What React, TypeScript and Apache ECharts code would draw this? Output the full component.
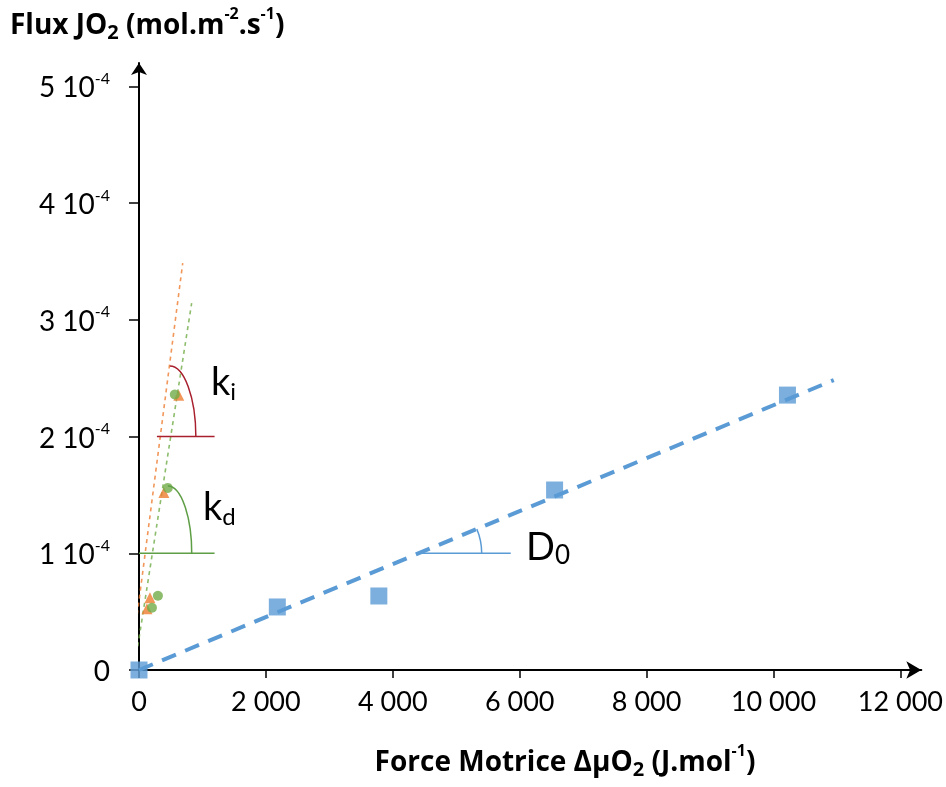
import React, { useEffect, useRef } from "react";
import * as echarts from "echarts";

// ---- data ----
const xTickValues = [0, 2000, 4000, 6000, 8000, 10000, 12000];
const xTickLabels = ["0", "2 000", "4 000", "6 000", "8 000", "10 000", "12 000"];
const yTickValues = [0, 1e-4, 2e-4, 3e-4, 4e-4, 5e-4];
const yTickMantissa = ["0", "1 10", "2 10", "3 10", "4 10", "5 10"];
const yTickExponent = ["", "-4", "-4", "-4", "-4", "-4"];

const blueX = [0, 2180, 3780, 6550, 10220];
const blueY = [0, 0.54e-4, 0.634e-4, 1.542e-4, 2.355e-4];
const trendX = [0, 10950];
const trendY = [0, 2.484e-4];

const triX = [125, 172, 392, 627];
const triY = [0.524e-4, 0.619e-4, 1.52e-4, 2.354e-4];
const circX = [204, 298, 454, 564];
const circY = [0.533e-4, 0.636e-4, 1.56e-4, 2.36e-4];

const orangeFitX = [-141, 689];
const orangeFitY = [0, 3.486e-4];
const greenFitX = [-78, 830];
const greenFitY = [0, 3.143e-4];

// annotation guides (data units)
const kiBaseX = [282, 1191];
const kiBaseY = [2e-4, 2e-4];
const kdBaseX = [0, 1191];
const kdBaseY = [1e-4, 1e-4];
const d0BaseX = [4434, 5859];
const d0BaseY = [1e-4, 1e-4];
const kiArcTop = [486, 2.604e-4];
const kiArcEnd = [896, 2e-4];
const kdArcTop = [455, 1.576e-4];
const kdArcEnd = [831, 1e-4];
const d0ArcEnd = [5401, 1e-4];

const zip = (xs: number[], ys: number[]) => xs.map((x, i) => [x, ys[i]]);

const FONT = "Lato, 'Open Sans', 'DejaVu Sans', sans-serif";
const TFONT = "'Open Sans', Lato, 'DejaVu Sans', sans-serif";
const BLUE = "#5b9bd5";
const ORANGE = "#ed7d31";
const GREEN = "#70ad47";
const RED = "#a8202e";
const KD_GREEN = "#5e9e45";

export default function App() {
  const ref = useRef<HTMLDivElement>(null);
  useEffect(() => {
    if (!ref.current) return;
    const chart = echarts.init(ref.current, null, { renderer: "svg" });
    const option: any = {
      animation: false,
      grid: { left: 139, top: 63, width: 787, height: 607 },
      xAxis: {
        type: "value",
        min: 0,
        max: 12330,
        axisLine: {
          show: true,
          onZero: false,
          symbol: ["none", "arrow"],
          symbolSize: [13, 15],
          lineStyle: { color: "#000", width: 2 },
        },
        axisTick: {
          show: true,
          inside: false,
          length: 8,
          customValues: xTickValues,
          lineStyle: { color: "#000", width: 1.5 },
        },
        axisLabel: {
          customValues: xTickValues,
          formatter: (v: number) => {
            const i = xTickValues.indexOf(v);
            return i >= 0 ? xTickLabels[i] : "";
          },
          fontFamily: FONT,
          fontSize: 27,
          color: "#000",
          margin: 17,
        },
        splitLine: { show: false },
      },
      yAxis: {
        type: "value",
        min: 0,
        max: 5.2e-4,
        axisLine: {
          show: true,
          onZero: false,
          symbol: ["none", "arrow"],
          symbolSize: [12, 12],
          lineStyle: { color: "#000", width: 2 },
        },
        axisTick: {
          show: true,
          inside: false,
          length: 10,
          customValues: yTickValues,
          lineStyle: { color: "#000", width: 1.5 },
        },
        axisLabel: {
          customValues: yTickValues,
          formatter: (v: number) => {
            const i = Math.round(v / 1e-4);
            if (!yTickExponent[i]) return `{m|${yTickMantissa[i]}}`;
            return `{m|${yTickMantissa[i]}}{e|${yTickExponent[i]}}`;
          },
          margin: 29,
          rich: {
            m: { fontFamily: FONT, fontSize: 28, lineHeight: 34, color: "#000" },
            e: { fontFamily: FONT, fontSize: 16, lineHeight: 28, verticalAlign: "top", color: "#000" },
          },
        },
        splitLine: { show: false },
      },
      series: [
        {
          type: "line",
          data: zip(orangeFitX, orangeFitY),
          symbol: "none",
          clip: false,
          silent: true,
          lineStyle: { color: ORANGE, width: 1.6, type: [4, 4], opacity: 0.8 },
          z: 1,
        },
        {
          type: "line",
          data: zip(greenFitX, greenFitY),
          symbol: "none",
          clip: false,
          silent: true,
          lineStyle: { color: GREEN, width: 1.6, type: [4, 4], opacity: 0.8 },
          z: 1,
        },
        {
          type: "line",
          data: zip(kiBaseX, kiBaseY),
          symbol: "none",
          silent: true,
          lineStyle: { color: RED, width: 1.5 },
          z: 1,
        },
        {
          type: "line",
          data: zip(kdBaseX, kdBaseY),
          symbol: "none",
          silent: true,
          lineStyle: { color: KD_GREEN, width: 1.5 },
          z: 1,
        },
        {
          type: "line",
          data: zip(d0BaseX, d0BaseY),
          symbol: "none",
          silent: true,
          lineStyle: { color: BLUE, width: 1.5 },
          z: 1,
        },
        {
          type: "line",
          data: zip(trendX, trendY),
          symbol: "none",
          silent: true,
          lineStyle: { color: BLUE, width: 4, type: [15, 10] },
          z: 2,
        },
        {
          type: "scatter",
          data: zip(blueX, blueY),
          symbol: "rect",
          symbolSize: 17,
          itemStyle: { color: BLUE },
          clip: false,
          z: 3,
        },
        {
          type: "scatter",
          data: zip(triX, triY),
          symbol: "triangle",
          symbolSize: 11,
          itemStyle: { color: ORANGE },
          z: 4,
        },
        {
          type: "scatter",
          data: zip(circX, circY),
          symbol: "circle",
          symbolSize: 10,
          itemStyle: { color: GREEN },
          z: 4,
        },
      ],
    };
    chart.setOption(option);

    const px = (p: number[]) => chart.convertToPixel({ gridIndex: 0 }, p) as number[];
    const quarter = (top: number[], end: number[], color: string) => {
      const a = px(top);
      const b = px(end);
      const rx = b[0] - a[0];
      const ry = b[1] - a[1];
      const k = 0.5523;
      return {
        type: "bezierCurve",
        silent: true,
        shape: {
          x1: a[0], y1: a[1], x2: b[0], y2: b[1],
          cpx1: a[0] + k * rx, cpy1: a[1],
          cpx2: b[0], cpy2: b[1] - k * ry,
        },
        style: { stroke: color, lineWidth: 1.5, fill: null },
        z: 10,
      };
    };
    // D0 arc: circle centred where the trend line crosses the D0 base line
    const t0 = px([trendX[0], trendY[0]]);
    const t1 = px([trendX[1], trendY[1]]);
    const slopeData = (trendY[1] - trendY[0]) / (trendX[1] - trendX[0]);
    const c = px([d0BaseY[0] / slopeData, d0BaseY[0]]);
    const e = px(d0ArcEnd);
    const ang = Math.atan2(t0[1] - t1[1], t1[0] - t0[0]);

    const subRich = (main: number, sub: number) => ({
      m: { fontFamily: FONT, fontSize: main, lineHeight: 44, fill: "#000" },
      s: { fontFamily: FONT, fontSize: sub, lineHeight: 8, verticalAlign: "bottom", fill: "#000" },
    });
    const titleRich = (size: number) => ({
      b: { fontFamily: TFONT, fontWeight: "bold", fontSize: size, lineHeight: 36, fill: "#000" },
      sub: { fontFamily: TFONT, fontWeight: "bold", fontSize: 20, lineHeight: 14, verticalAlign: "bottom", fill: "#000" },
      sup: { fontFamily: TFONT, fontWeight: "bold", fontSize: 16, lineHeight: 32, verticalAlign: "top", fill: "#000" },
    });

    chart.setOption({
      graphic: [
        quarter(kiArcTop, kiArcEnd, RED),
        quarter(kdArcTop, kdArcEnd, KD_GREEN),
        {
          type: "arc",
          silent: true,
          shape: { cx: c[0], cy: c[1], r: e[0] - c[0], startAngle: -ang, endAngle: 0, clockwise: true },
          style: { stroke: BLUE, lineWidth: 1.5, fill: null },
          z: 10,
        },
        {
          type: "text",
          x: 211,
          y: 358,
          style: { text: "{m|k}{s|i}", rich: subRich(38, 24) },
          z: 10,
        },
        {
          type: "text",
          x: 203,
          y: 483,
          style: { text: "{m|k}{s|d}", rich: subRich(38, 24) },
          z: 10,
        },
        {
          type: "text",
          x: 526,
          y: 523,
          style: { text: "{m|D}{s|0}", rich: subRich(38, 26) },
          z: 10,
        },
        {
          type: "text",
          x: 10,
          y: 5,
          style: {
            text: "{b|Flux JO}{sub|2}{b| (mol.m}{sup|-2}{b|.s}{sup|-1}{b|)}",
            rich: titleRich(28),
          },
          z: 10,
        },
        {
          type: "text",
          x: 565,
          y: 742,
          style: {
            text: "{b|Force Motrice ΔμO}{sub|2}{b| (J.mol}{sup|-1}{b|)}",
            align: "center",
            rich: titleRich(28),
          },
          z: 10,
        },
      ],
    });
    return () => chart.dispose();
  }, []);
  return (
    <div
      ref={ref}
      style={{ position: "fixed", left: 0, top: 0, width: 946, height: 787 }}
    />
  );
}
